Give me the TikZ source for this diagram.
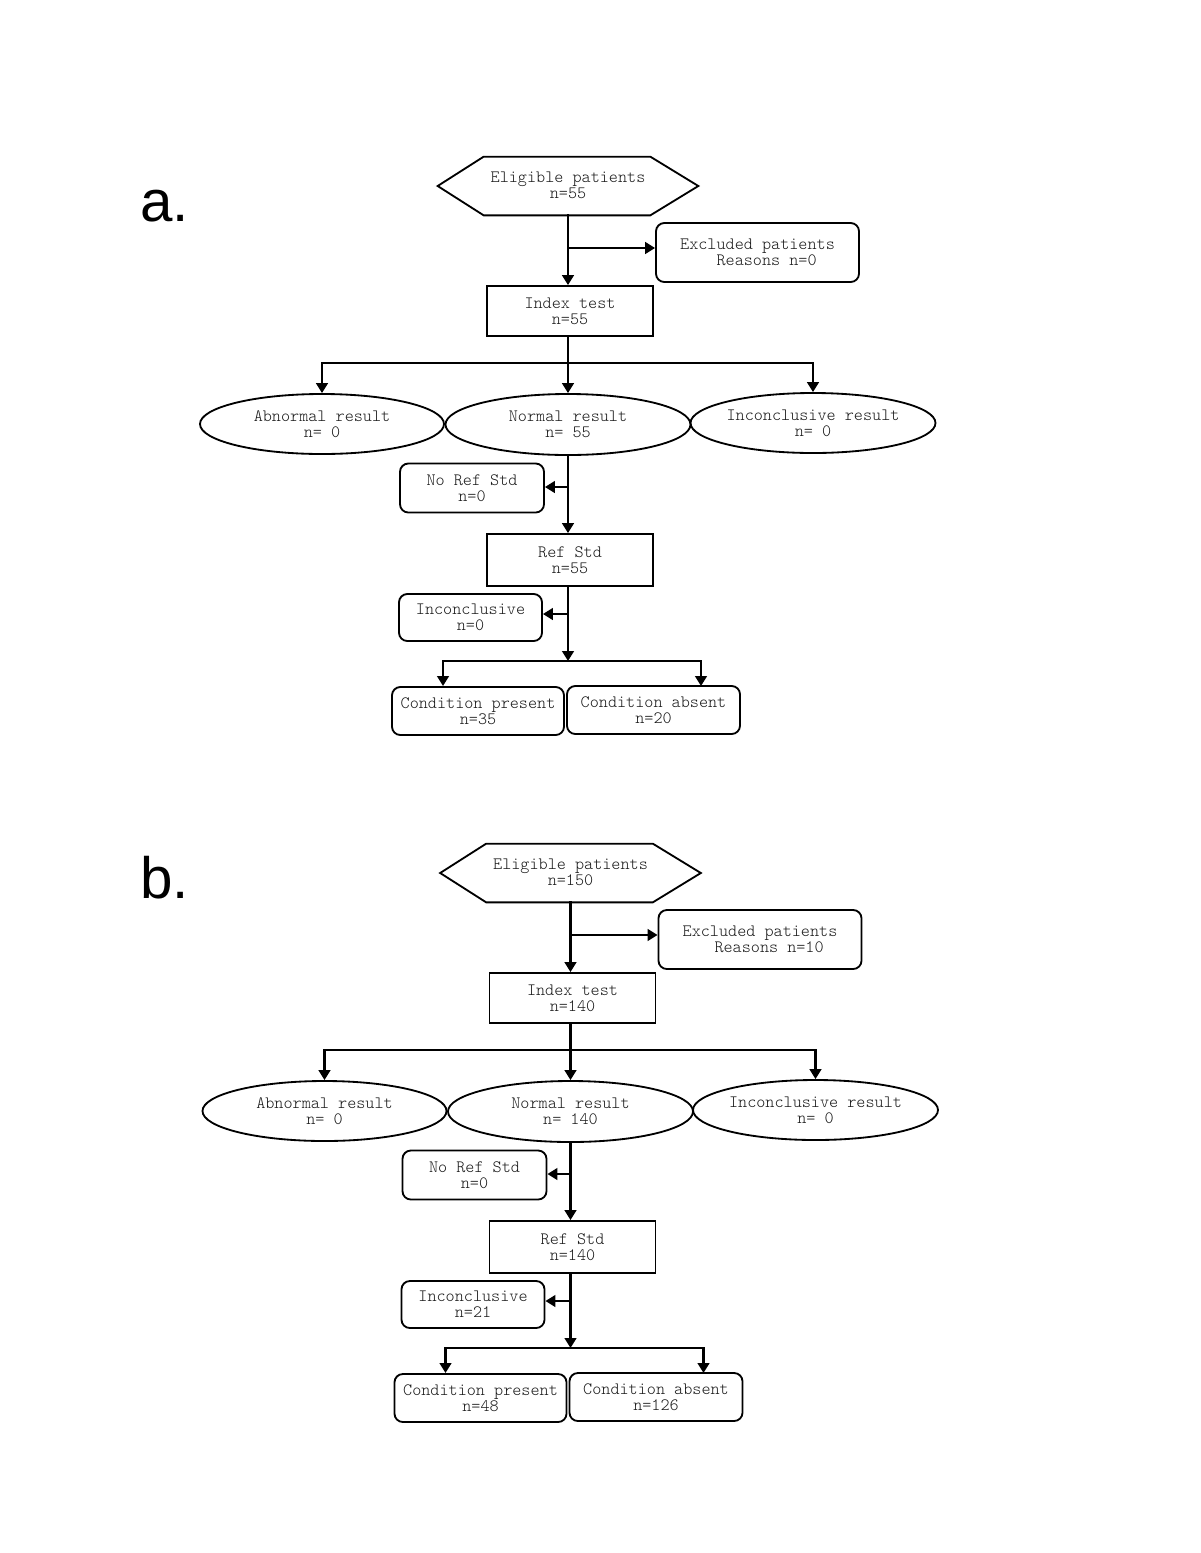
\documentclass[tikz,border=0pt]{standalone}
\usepackage{fontspec}
\setmainfont{Liberation Sans}
\setmonofont{Latin Modern Mono Light}
\usetikzlibrary{shapes.geometric,arrows.meta,calc}
\tikzset{
  txt/.style={font=\ttfamily\fontsize{10.4}{9.8}\selectfont, text=black!90, align=center, inner sep=0pt},
  sqbox/.style={txt, draw=black, line width=1.1pt, rectangle},
  rbox/.style={sqbox, rounded corners=5pt},
  oval/.style={txt, draw=black, line width=1.1pt, ellipse},
  hexnode/.style={txt, rectangle, draw=none},
  arr/.style={line width=1.4pt, -{Triangle[length=6pt,width=7pt]}},
  ln/.style={line width=1.4pt},
  panellabel/.style={font=\fontsize{35}{40}\selectfont, inner sep=0pt, anchor=base west}
}
\newcommand{\flowpanel}[9]{%
  % hexagon
  \node[hexnode, minimum width=260*0.6pt, minimum height=56*0.6pt] (#1-elig) at (568,185) {Eligible patients\\#2};
  \draw[line width=1.1pt] ($(#1-elig.west)+(0,1)$) -- ($(#1-elig.north west)+(46,0)$) -- ($(#1-elig.north east)+(-48,0)$)
     -- ($(#1-elig.east)+(0,1)$) -- ($(#1-elig.south east)+(-48,2)$) -- ($(#1-elig.south west)+(46,2)$) -- cycle;
  \node[rbox, minimum width=203*0.6pt, minimum height=59*0.6pt] (#1-excl) at (757.5,252.5) {Excluded patients\\\ \ Reasons n=#3};
  \node[sqbox, minimum width=166*0.6pt, minimum height=50*0.6pt] (#1-index) at (570,311) {Index test\\n=#4};
  \node[oval, minimum width=244*0.6pt, minimum height=60*0.6pt] (#1-abn) at (322,424) {Abnormal result\\n= 0};
  \node[oval, minimum width=245*0.6pt, minimum height=61*0.6pt] (#1-norm) at (568,424.5) {Normal result\\n= #5};
  \node[oval, minimum width=245*0.6pt, minimum height=60*0.6pt] (#1-inc) at (813,423) {Inconclusive result\\n= 0};
  \node[rbox, minimum width=144*0.6pt, minimum height=49*0.6pt] (#1-noref) at (472,488) {No Ref Std\\n=0};
  \node[sqbox, minimum width=166*0.6pt, minimum height=52*0.6pt] (#1-ref) at (570,560) {Ref Std\\n=#6};
  \node[rbox, minimum width=143*0.6pt, minimum height=47*0.6pt] (#1-incbox) at (470.5,617.5) {Inconclusive\\n=#7};
  \node[rbox, minimum width=172*0.6pt, minimum height=48*0.6pt] (#1-pres) at (478,711) {Condition present\\n=#8};
  \node[rbox, minimum width=173*0.6pt, minimum height=48*0.6pt] (#1-abs) at (653.5,710) {Condition absent\\n=#9};
  % junctions
  \coordinate (#1-j1) at (568,248);
  \coordinate (#1-j2) at (568,363);
  \coordinate (#1-j3) at (568,487);
  \coordinate (#1-j4) at (568,614);
  \coordinate (#1-j5) at (568,661);
  \coordinate (#1-tp) at (443,686);
  \coordinate (#1-ta) at (701,686);
  % connectors
  \draw[arr] ($(#1-elig.south)+(0,1)$) -- (#1-elig.south |- #1-index.north);
  \draw[arr] (#1-j1) -- (#1-j1 -| #1-excl.west);
  \draw[ln] (#1-index.south -| #1-j2) -- (#1-j2);
  \draw[arr] (#1-j2) -| (#1-abn.north);
  \draw[arr] (#1-j2) -| (#1-inc.north);
  \draw[arr] (#1-j2) -- (#1-norm.north);
  \draw[arr] (#1-norm.south) -- (#1-norm.south |- #1-ref.north);
  \draw[arr] (#1-j3) -- (#1-j3 -| #1-noref.east);
  \draw[arr] (#1-ref.south -| #1-j4) -- (#1-j5);
  \draw[arr] (#1-j4) -- (#1-j4 -| #1-incbox.east);
  \draw[arr] (#1-j5) -| (#1-tp);
  \draw[arr] (#1-j5) -| (#1-ta);
}
\begin{document}
\begin{tikzpicture}[x=0.6pt,y=-0.6pt]
\path[use as bounding box, fill=white] (0,0) rectangle (1200,1553);
\node[panellabel] (la) at (140,221) {a.};
\flowpanel{a}{n=55}{0}{55}{55}{55}{0}{35}{20}
\node[panellabel] (lb) at (140,898) {b.};
\begin{scope}[shift={(2.5,687)}]
\flowpanel{b}{n=150}{10}{140}{140}{140}{21}{48}{126}
\end{scope}
\end{tikzpicture}
\end{document}
